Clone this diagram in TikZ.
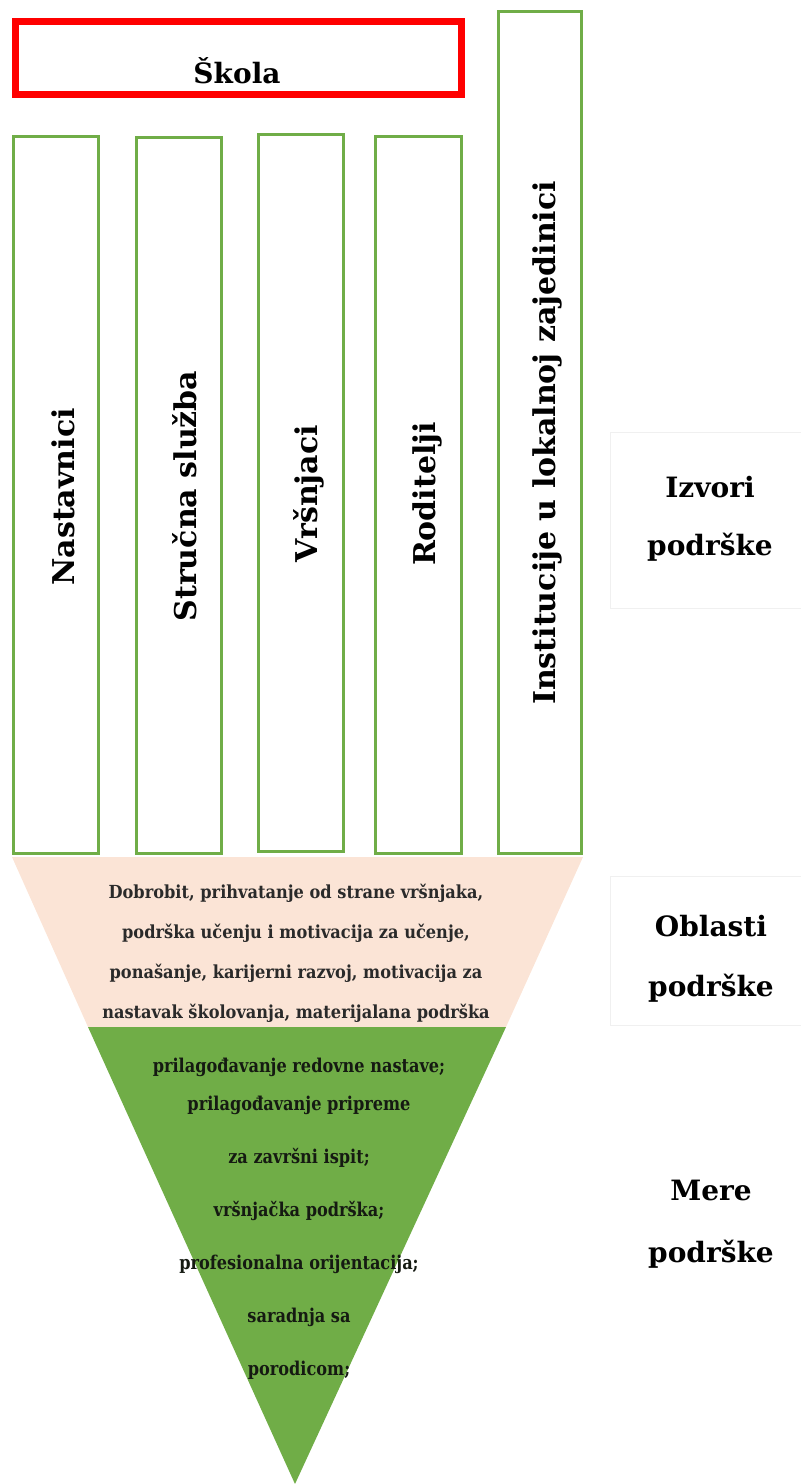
\documentclass[tikz,border=0pt]{standalone}
\usepackage{fontspec}
\setmainfont{DejaVu Serif}
\newfontfamily\areafont[FakeStretch=0.9]{DejaVu Serif}
\newfontfamily\merefont[FakeStretch=0.85]{DejaVu Serif}
\definecolor{boxgreen}{HTML}{70AD47}
\definecolor{peach}{HTML}{FBE4D6}
\definecolor{faint}{HTML}{F0F0F0}
\definecolor{txt}{HTML}{2A2A2A}
\definecolor{txtg}{HTML}{151A12}
\tikzset{
  redbox/.style={draw=red, line width=7pt, minimum width=446pt, minimum height=73pt, inner sep=0pt},
  greenbox/.style={draw=boxgreen, line width=3pt, inner sep=0pt},
  srclabel/.style={rotate=90, anchor=base, font=\bfseries\fontsize{30}{36}\selectfont, text=black, inner sep=0pt},
  sidelabel/.style={align=center, font=\bfseries\fontsize{28}{58}\selectfont, text=black},
  faintbox/.style={draw=faint, line width=0.8pt},
  areatext/.style={align=center, font=\areafont\bfseries\fontsize{18}{40}\selectfont, text=txt},
  meretext/.style={align=center, font=\merefont\bfseries\fontsize{19}{53}\selectfont, text=txtg}
}
\begin{document}
\begin{tikzpicture}[x=1pt,y=-1pt]
\path[use as bounding box] (0,0) rectangle (801,1484);
% faint side boxes
\draw[faintbox] (801,432) -- (610,432) -- (610,608) -- (801,608);
\draw[faintbox] (801,876) -- (610,876) -- (610,1025) -- (801,1025);
% School
\node[redbox] (skola) at (238.5,58) {};
\node[font=\bfseries\fontsize{28}{34}\selectfont] (skolat) at (237,71) {Škola};
% source boxes
\node[greenbox, minimum width=85pt, minimum height=717pt] (b1) at (56,495) {};
\node[greenbox, minimum width=85pt, minimum height=716pt] (b2) at (179,495.5) {};
\node[greenbox, minimum width=85pt, minimum height=717pt] (b3) at (301,493) {};
\node[greenbox, minimum width=86pt, minimum height=717pt] (b4) at (418.5,495) {};
\node[greenbox, minimum width=83pt, minimum height=842pt] (b5) at (540,432.5) {};
\node[srclabel] (l1) at (74,497) {Nastavnici};
\node[srclabel] (l2) at (196,496) {Stručna služba};
\node[srclabel] (l3) at (317,494) {Vršnjaci};
\node[srclabel] (l4) at (435,494) {Roditelji};
\node[srclabel] (l5) at (555,443) {Institucije u lokalnoj zajedinici};
% areas (trapezoid)
\fill[peach] (12,857) -- (583,857) -- (506,1027) -- (88,1027) -- cycle;
\node[areatext] (areas) at (296,953) {Dobrobit, prihvatanje od strane vršnjaka,\\ podrška učenju i motivacija za učenje,\\ ponašanje, karijerni razvoj, motivacija za\\ nastavak školovanja, materijalana podrška};
% measures (triangle)
\fill[boxgreen] (88,1027) -- (506,1027) -- (295,1484) -- cycle;
\node[meretext] (mere) at (299,1219) {prilagođavanje redovne nastave;\\[-15pt] prilagođavanje pripreme\\ za završni ispit;\\ vršnjačka podrška;\\ profesionalna orijentacija;\\ saradnja sa\\ porodicom;};
% side labels
\node[sidelabel] (izvori) at (710,519) {Izvori\\ podrške};
\node[sidelabel, font=\bfseries\fontsize{28}{60}\selectfont] (oblasti) at (711,959) {Oblasti\\ podrške};
\node[sidelabel, font=\bfseries\fontsize{28}{62}\selectfont] (merel) at (711,1224) {Mere\\ podrške};
\end{tikzpicture}
\end{document}
